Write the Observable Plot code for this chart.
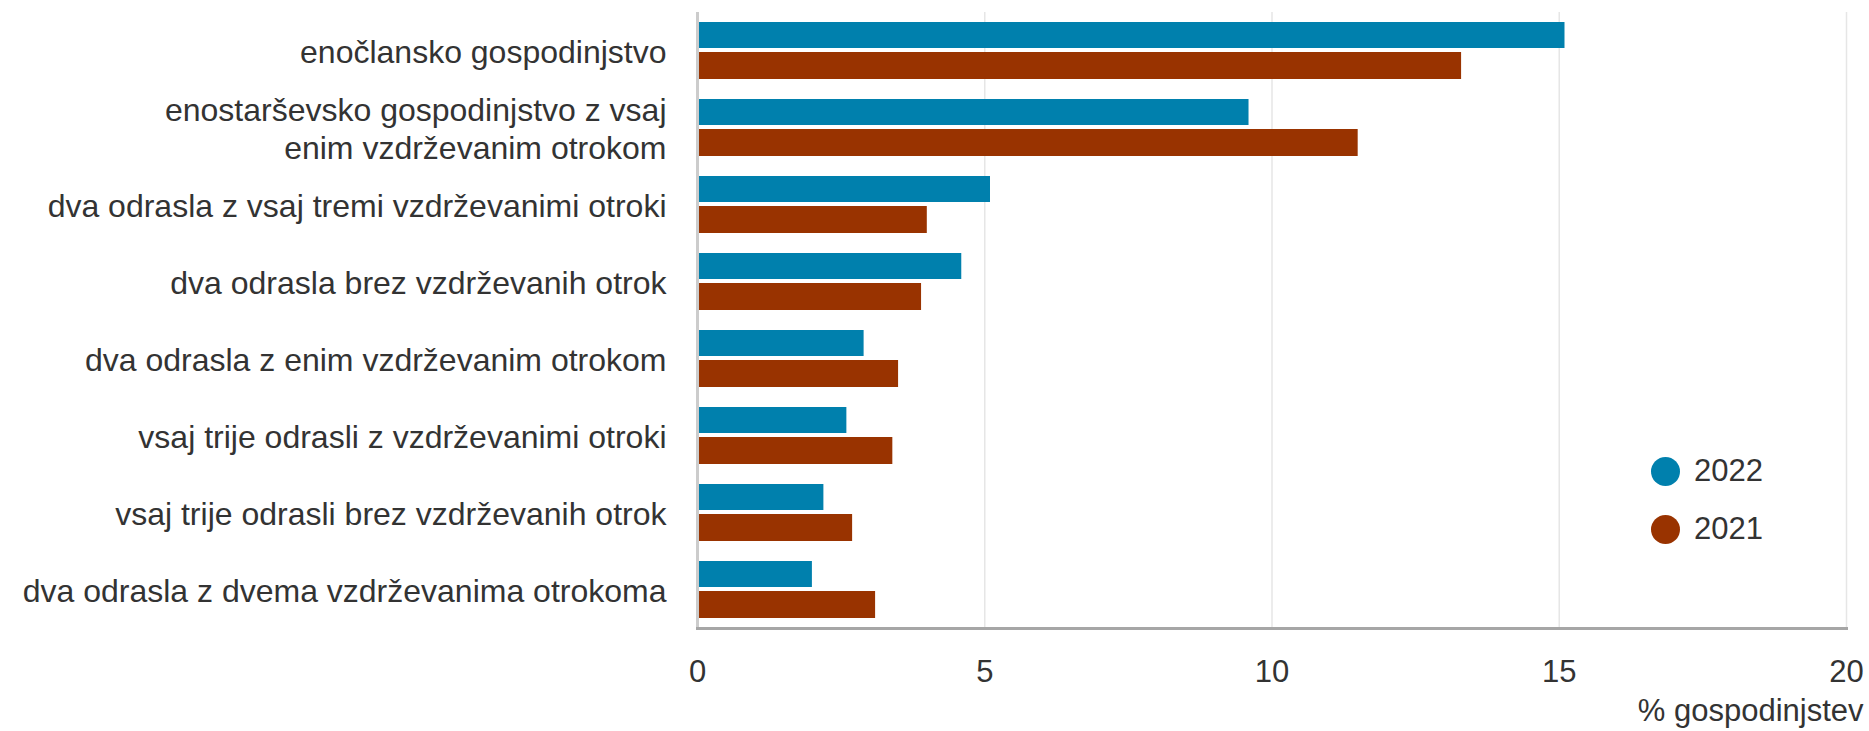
<!DOCTYPE html>
<html>
<head>
<meta charset="utf-8">
<script src="https://cdn.jsdelivr.net/npm/d3@7"></script>
<script src="https://cdn.jsdelivr.net/npm/@observablehq/plot@0.6"></script>
<style>
  html, body { margin: 0; padding: 0; background: #fff; }
  #wrap { position: relative; width: 1869px; height: 731px; font-family: "Liberation Sans", Arial, sans-serif; }
  .legend { position: absolute; left: 1651px; font-size: 31px; color: #333; display: flex; align-items: center; }
  .legend span.dot { width: 29px; height: 29px; border-radius: 50%; display: inline-block; margin-right: 14px; }
</style>
</head>
<body>
<div id="wrap"></div>
<script>
const categories = [
  "enočlansko gospodinjstvo",
  "enostarševsko gospodinjstvo z vsaj enim vzdrževanim otrokom",
  "dva odrasla z vsaj tremi vzdrževanimi otroki",
  "dva odrasla brez vzdrževanih otrok",
  "dva odrasla z enim vzdrževanim otrokom",
  "vsaj trije odrasli z vzdrževanimi otroki",
  "vsaj trije odrasli brez vzdrževanih otrok",
  "dva odrasla z dvema vzdrževanima otrokoma"
];
const categoryLabels = [
  "enočlansko gospodinjstvo",
  "enostarševsko gospodinjstvo z vsaj\nenim vzdrževanim otrokom",
  "dva odrasla z vsaj tremi vzdrževanimi otroki",
  "dva odrasla brez vzdrževanih otrok",
  "dva odrasla z enim vzdrževanim otrokom",
  "vsaj trije odrasli z vzdrževanimi otroki",
  "vsaj trije odrasli brez vzdrževanih otrok",
  "dva odrasla z dvema vzdrževanima otrokoma"
];
const values2022 = [15.1, 9.6, 5.1, 4.6, 2.9, 2.6, 2.2, 2.0];
const values2021 = [13.3, 11.5, 4.0, 3.9, 3.5, 3.4, 2.7, 3.1];
const xTicks = [0, 5, 10, 15, 20];
const gridTicks = [5, 10, 15, 20];
const seriesNames = ["2022", "2021"];
const seriesColors = ["#0080ad", "#993300"];
const axisTitle = "% gospodinjstev";

const rows2022 = categories.map((c, i) => ({category: c, value: values2022[i]}));
const rows2021 = categories.map((c, i) => ({category: c, value: values2021[i]}));
const labelOf = new Map(categories.map((c, i) => [c, categoryLabels[i]]));

const chart = Plot.plot({
  width: 1869,
  height: 731,
  marginLeft: 697,
  marginRight: 23,
  marginTop: 12,
  marginBottom: 103,
  style: {fontFamily: "'Liberation Sans', Arial, sans-serif", color: "#333", background: "#fff"},
  x: {domain: [0, 20]},
  y: {domain: categories, padding: 0},
  marks: [
    Plot.gridX(gridTicks, {stroke: "#e6e6e6", strokeOpacity: 1, strokeWidth: 1.5}),
    Plot.barX(rows2022, {y: "category", x: "value", fill: seriesColors[0], insetTop: 10, insetBottom: 41}),
    Plot.barX(rows2021, {y: "category", x: "value", fill: seriesColors[1], insetTop: 40, insetBottom: 10}),
    Plot.ruleX([0], {stroke: "#cccccc", strokeWidth: 3}),
    Plot.frame({anchor: "bottom", stroke: "#a6a6a6", strokeWidth: 3}),
    Plot.axisX({ticks: xTicks, tickSize: 0, tickPadding: 31, fontSize: 31, label: null}),
    Plot.axisY({tickSize: 0, tickPadding: 31, fontSize: 32, lineHeight: 1.18, tickFormat: d => labelOf.get(d), label: null}),
    Plot.text([axisTitle], {frameAnchor: "bottom-right", dx: 17, dy: 83, textAnchor: "end", lineAnchor: "middle", fontSize: 31, fill: "#333"})
  ]
});
const wrap = document.getElementById("wrap");
wrap.appendChild(chart);

const legendTops = [453, 511];
seriesNames.forEach((name, i) => {
  const item = document.createElement("div");
  item.className = "legend";
  item.style.top = legendTops[i] + "px";
  item.innerHTML = `<span class="dot" style="background:${seriesColors[i]}"></span><span>${name}</span>`;
  wrap.appendChild(item);
});
</script>
</body>
</html>
